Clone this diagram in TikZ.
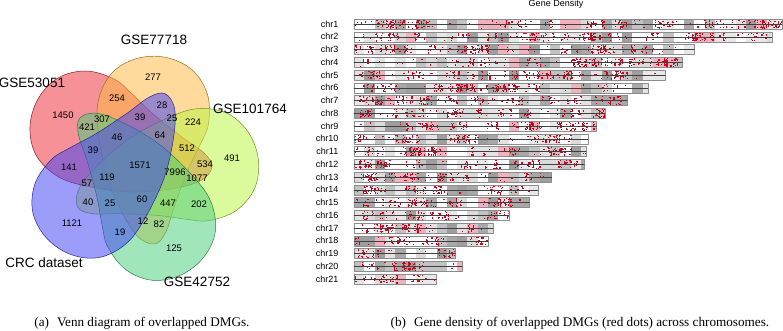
\documentclass[tikz,border=0pt]{standalone}
\usepackage{fontspec}
\setmainfont{Liberation Serif}
\setsansfont{Liberation Sans}
\definecolor{vred}{RGB}{235,45,55}
\definecolor{vyel}{RGB}{255,185,65}
\definecolor{vlgr}{RGB}{185,245,65}
\definecolor{vgrn}{RGB}{75,205,125}
\definecolor{vblu}{RGB}{65,65,245}
\definecolor{dotred}{RGB}{210,0,25}
\colorlet{band0}{white}
\colorlet{band1}{white}
\colorlet{band2}{white}
\colorlet{band3}{black!9}
\colorlet{band4}{black!11}
\colorlet{band5}{black!14}
\colorlet{band6}{black!24}
\colorlet{band7}{black!38}
\colorlet{band8}{black!34}
\definecolor{band9}{RGB}{240,178,188}
\colorlet{band10}{white}
\tikzset{
  petal/.style={fill opacity=.52,line width=.5pt},
  num/.style={font=\sffamily\fontsize{9.5}{11}\selectfont,inner sep=0pt},
  setlab/.style={font=\sffamily\fontsize{13.5}{15}\selectfont,inner sep=0pt},
  chrlab/.style={font=\sffamily\fontsize{9}{10}\selectfont,inner sep=0pt},
  capt/.style={font=\fontsize{13.2}{15}\selectfont,inner sep=0pt}
}
\begin{document}
\begin{tikzpicture}[x=1pt,y=-1pt,line join=round,line cap=round]
\useasboundingbox (0,0) rectangle (783,331);
\pgfmathsetseed{2718}
% (a) Venn
\foreach \rot/\col/\dx/\dy in {0/vred/0/0,288/vyel/-9/10,216/vlgr/-8/-2,144/vgrn/-5/-9,72/vblu/2/-7}
  \filldraw[petal,fill=\col,draw=\col!60!black,shift={(\dx,\dy)},rotate around={\rot:(142,167.5)}]
    plot[smooth cycle,tension=.6] coordinates {(114,79) (86,71) (58,78) (38,99) (30,127) (36,155)
      (57,176) (86,186) (130,192) (170,189) (200,181) (212,167) (204,153) (182,137) (152,113) (131,93)};
\foreach \x/\y/\v [count=\i] in {153/77/277,117/98/254,63/115/1450,162/105/28,172/118/25,
    193/122/224,140/117/39,87/127/421,102/119/307,160/135/64,117/137/46,232/158/491,
    187/148/512,205/164/534,93/150/39,140/165/1571,69/167/141,175/172/7996,197/178/1077,
    107/177/119,87/183/57,88/202/40,110/203/25,142/199/60,168/203/447,199/204/202,
    72/223/1121,143/221/12,159/224/82,120/232/19,174/248/125}
  \node[num] (v\i) at (\x,\y) {\v};
\node[setlab] (s1) at (32,83) {GSE53051};
\node[setlab] (s2) at (154,40) {GSE77718};
\node[setlab] (s3) at (250,109) {GSE101764};
\node[setlab] (s4) at (197,282) {GSE42752};
\node[setlab] (s5) at (44,263) {CRC dataset};
\node[capt] (capA) at (142,323) {(a)\hspace{.6em}Venn diagram of overlapped DMGs.};
% (b) chromosomes
\def\mb{1.719} % px per Mb
\def\xs{354} % left end of bars
\def\seg{6} % Mb per band
\node[chrlab] (title) at (556,4.5) {Gene Density};
\foreach \len [count=\i] in {249,243,198,191,181,171,159,146,141,136,135,134,115,107,102,90,81,78,59,63,48}{
  \pgfmathsetmacro\yc{24+(\i-1)*12.75}
  \pgfmathsetmacro\w{\len*\mb}
  \node[chrlab,anchor=east] (chr\i) at (338.5,\yc) {chr\i};
  \begin{scope}
    \clip (\xs,\yc-5) rectangle ++(\w,10);
    \pgfmathtruncatemacro\nb{\len/\seg}
    \foreach \k in {0,...,\nb}{
      \pgfmathtruncatemacro\bc{int(rnd*10)}
      \fill[band\bc] ({\xs+\k*\seg*\mb},\yc-5) rectangle ++(\seg*\mb,10);
    }
    % red dots: hot spots of short streaks
    \pgfmathtruncatemacro\nh{\len/11}
    \foreach \k in {1,...,\nh}{
      \pgfmathsetmacro\xh{\xs+rnd*\w}
      \foreach \s in {1,...,5}{
        \pgfmathsetmacro\xd{\xh+rand*9}
        \foreach \j in {1,2,3}
          \fill[dotred] ({\xd+rand*.6},{\yc-4.6+rnd*8.2}) rectangle ++(1.2,1.2);
      }
    }
    \pgfmathtruncatemacro\nd{\len/6}
    \foreach \k in {1,...,\nd}
      \fill[dotred] ({\xs+rnd*\w},{\yc-4.6+rnd*8.2}) rectangle ++(1.2,1.2);
  \end{scope}
  \draw[black!45,line width=.4pt] (\xs,\yc-5) rectangle ++(\w,10);
  \draw[black!75,line width=.4pt] (\xs,\yc) -- ++(\w,0);
}
\node[capt] (capB) at (580,323) {(b)\hspace{.6em}Gene density of overlapped DMGs (red dots) across chromosomes.};
\end{tikzpicture}
\end{document}
